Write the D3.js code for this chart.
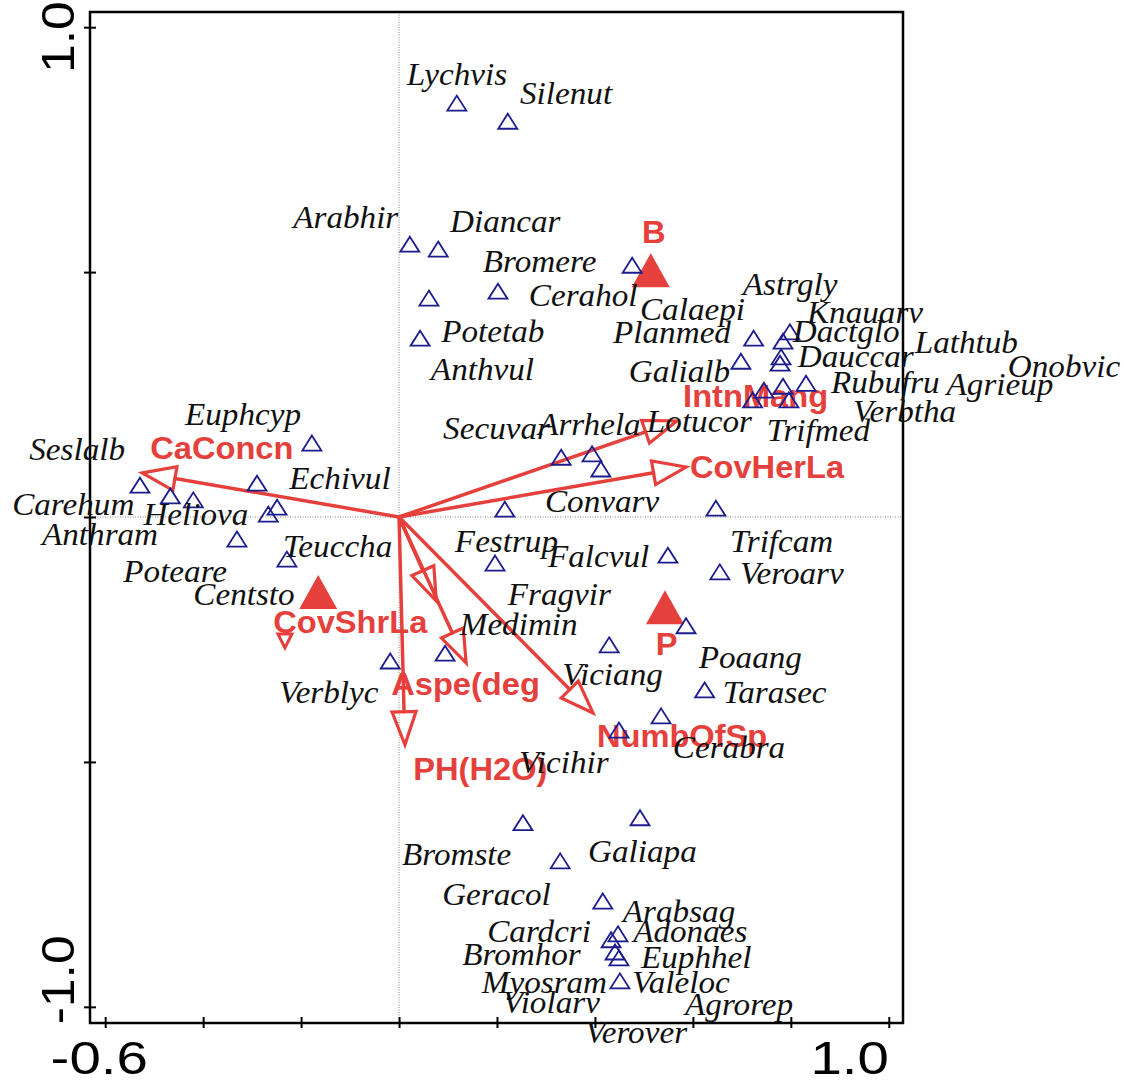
<!DOCTYPE html>
<html><head><meta charset="utf-8">
<script src="https://cdn.jsdelivr.net/npm/d3@7"></script>
<style>body{margin:0;background:#fff}</style>
</head><body><svg id="chart" width="1124" height="1082"></svg>
<script>
// ---- axis ticks ----
const xTicks = [-0.6, -0.4, -0.2, 0, 0.2, 0.4, 0.6, 0.8, 1.0];
const yTicks = [-1.0, -0.5, 0, 0.5, 1.0];
const xTickLabels = ["-0.6", "1.0"];
const xTickValues = [-0.6, 1.0];
const yTickLabels = ["1.0", "-1.0"];
const yTickValues = [1.0, -1.0];

// ---- species points (triangles) ----
const speciesX = [0.118,0.222,0.022,0.080,0.476,0.061,0.202,0.043,0.331,0.394,0.412,
  0.724,0.798,0.784,0.698,0.780,0.778,0.745,0.784,0.831,0.722,0.796,
  -0.529,-0.467,-0.420,-0.290,-0.178,-0.249,-0.267,-0.331,-0.229,-0.018,
  0.216,0.647,0.196,0.549,0.655,0.586,0.429,0.094,0.624,0.535,0.449,
  0.253,0.492,0.329,0.416,0.447,0.433,0.441,0.449,0.451];
const speciesY = [0.845,0.808,0.557,0.547,0.514,0.447,0.461,0.365,0.122,0.129,0.098,
  0.365,0.378,0.359,0.318,0.327,0.314,0.259,0.267,0.273,0.239,0.239,
  0.065,0.043,0.035,0.069,0.151,0.020,0.006,-0.045,-0.086,-0.294,
  0.016,0.018,-0.094,-0.078,-0.112,-0.222,-0.261,-0.278,-0.353,-0.406,-0.435,
  -0.624,-0.614,-0.702,-0.784,-0.851,-0.863,-0.888,-0.900,-0.947];

// ---- species labels ----
const speciesNames = ["Lychvis","Silenut","Arabhir","Diancar","Bromere","Cerahol","Calaepi","Astrgly",
  "Knauarv","Planmed","Dactglo","Lathtub","Onobvic","Dauccar","Galialb","Rubufru","Agrieup","Verbtha",
  "Lotucor","Trifmed","Secuvar","Arrhela","Euphcyp","Seslalb","Echivul","Carehum","Heliova","Anthram",
  "Teuccha","Poteare","Centsto","Verblyc","Potetab","Anthvul","Convarv","Trifcam","Festrup","Falcvul",
  "Veroarv","Fragvir","Medimin","Poaang","Viciang","Tarasec","Cerabra","Vicihir","Bromste","Galiapa",
  "Geracol","Arabsag","Cardcri","Adonaes","Bromhor","Euphhel","Myosram","Valeloc","Violarv","Agrorep","Verover"];
const speciesLabelX = [0.016,0.247,-0.216,0.104,0.171,0.265,0.492,0.702,
  0.833,0.437,0.804,1.053,1.243,0.814,0.469,0.882,1.118,0.927,
  0.506,0.751,0.090,0.284,-0.437,-0.755,-0.224,-0.790,-0.522,-0.729,
  -0.237,-0.563,-0.420,-0.245,0.086,0.065,0.298,0.676,0.114,0.304,
  0.696,0.222,0.124,0.612,0.333,0.661,0.559,0.245,0.006,0.386,
  0.088,0.457,0.180,0.478,0.129,0.494,0.169,0.476,0.212,0.584,0.380];
const speciesLabelY = [0.882,0.843,0.590,0.582,0.500,0.431,0.402,0.453,
  0.396,0.355,0.357,0.335,0.286,0.306,0.276,0.253,0.249,0.194,
  0.173,0.155,0.159,0.167,0.188,0.116,0.057,0.004,-0.016,-0.057,
  -0.082,-0.133,-0.180,-0.380,0.357,0.280,0.010,-0.071,-0.071,-0.102,
  -0.137,-0.180,-0.241,-0.308,-0.343,-0.380,-0.492,-0.522,-0.710,-0.704,
  -0.792,-0.827,-0.867,-0.867,-0.914,-0.920,-0.971,-0.971,-1.012,-1.016,-1.073];

// ---- environmental arrows ----
const envNames = ["CaConcn","IntnMang","CovHerLa","CovShrLa","Aspe(deg","PH(H2O)","NumbOfSp"];
const envX = [-0.524,0.567,0.586,0.076,0.137,0.012,0.396];
const envY = [0.090,0.196,0.102,-0.171,-0.298,-0.465,-0.400];
const envLabelX = [-0.508,0.580,0.594,-0.257,-0.016,0.029,0.404];
const envLabelY = [0.118,0.224,0.080,-0.237,-0.363,-0.537,-0.469];

// ---- nominal centroids ----
const centroidNames = ["B","P",""];
const centroidX = [0.514,0.543,-0.165];
const centroidY = [0.504,-0.184,-0.153];
const centroidLabelX = [0.496,0.524,null];
const centroidLabelY = [0.559,-0.282,null];
// stray small arrowhead below CovShrLa label
const strayX = [-0.233];
const strayY = [-0.251];

const RED = "#e5403c", BLUE = "#1c1c8e";
const svg = d3.select("#chart");
const x = d3.scaleLinear().domain([-0.631, 1.029]).range([90, 903]);
const y = d3.scaleLinear().domain([-1.033, 1.031]).range([1023, 12]);
const [x0, x1] = x.range(), [y0, y1] = y.range();
const STRETCH = 1.07;

function stretchedText(g, px, py, str, sx) {
  return g.append("text").attr("transform", `translate(${px},${py}) scale(${sx},1)`).text(str);
}

// zero lines (dotted)
svg.append("line").attr("x1", x(0)).attr("x2", x(0)).attr("y1", y1).attr("y2", y0)
  .attr("stroke", "#888").attr("stroke-width", 1).attr("stroke-dasharray", "1,1.5");
svg.append("line").attr("x1", x0).attr("x2", x1).attr("y1", y(0)).attr("y2", y(0))
  .attr("stroke", "#888").attr("stroke-width", 1).attr("stroke-dasharray", "1,1.5");

// frame
svg.append("rect").attr("x", x0).attr("y", y1).attr("width", x1 - x0).attr("height", y0 - y1)
  .attr("fill", "none").attr("stroke", "#000").attr("stroke-width", 2.5);

// ticks via axes
const xAxis = svg.append("g").attr("transform", `translate(0,${y0 + 5})`)
  .call(d3.axisBottom(x).tickValues(xTicks).tickSize(11).tickFormat(""));
xAxis.select(".domain").remove();
xAxis.selectAll(".tick line").attr("stroke", "#000").attr("stroke-width", 2).attr("y1", -11).attr("y2", 0);
const yAxis = svg.append("g").attr("transform", `translate(${x0 - 6},0)`)
  .call(d3.axisLeft(y).tickValues(yTicks).tickSize(0).tickFormat(""));
yAxis.select(".domain").remove();
yAxis.selectAll(".tick line").attr("stroke", "#000").attr("stroke-width", 2).attr("x1", 0).attr("x2", 12);

// tick labels
const tickFont = "'Liberation Sans', Arial, sans-serif";
const gT = svg.append("g").attr("font-family", tickFont).attr("font-size", 47).attr("fill", "#000");
stretchedText(gT, x(xTickValues[0]) - 6, 1074, xTickLabels[0], 1.2).attr("text-anchor", "middle");
stretchedText(gT, x(xTickValues[1]), 1074, xTickLabels[1], 1.2).attr("text-anchor", "end");
gT.append("text").attr("transform", `translate(74,${y(yTickValues[0]) + 10}) rotate(-90) scale(1.1,1)`)
  .attr("text-anchor", "middle").text(yTickLabels[0]);
gT.append("text").attr("transform", `translate(74,${y(yTickValues[1]) - 27}) rotate(-90) scale(1.1,1)`)
  .attr("text-anchor", "middle").text(yTickLabels[1]);

// arrows
const ox = x(0), oy = y(0);
const gA = svg.append("g");
envNames.forEach((n, i) => {
  const tx = x(envX[i]), ty = y(envY[i]);
  const dx = tx - ox, dy = ty - oy, L = Math.hypot(dx, dy), ux = dx / L, uy = dy / L;
  const hl = 33, hw = 12;
  const bx = tx - ux * hl, by = ty - uy * hl;
  gA.append("line").attr("x1", ox).attr("y1", oy).attr("x2", bx).attr("y2", by)
    .attr("stroke", RED).attr("stroke-width", 3.5).attr("stroke-linecap", "round");
  gA.append("path")
    .attr("d", `M${tx},${ty}L${bx - uy * hw},${by + ux * hw}L${bx + uy * hw},${by - ux * hw}Z`)
    .attr("fill", "none").attr("stroke", RED).attr("stroke-width", 3.2).attr("stroke-linejoin", "miter");
});
// stray arrowhead
strayX.forEach((v, i) => {
  gA.append("path").attr("transform", `translate(${x(v)},${y(strayY[i])})`)
    .attr("d", "M-7,-6L7,-6L0,8Z").attr("fill", "none").attr("stroke", RED).attr("stroke-width", 3);
});
// centroids
centroidNames.forEach((n, i) => {
  gA.append("path").attr("transform", `translate(${x(centroidX[i])},${y(centroidY[i])})`)
    .attr("d", "M0,-17L19,17L-19,17Z").attr("fill", RED);
});

// red labels
const gR = svg.append("g").attr("font-family", "'Liberation Sans', Arial, sans-serif")
  .attr("font-weight", "bold").attr("font-size", 30.5).attr("fill", RED);
envNames.forEach((n, i) => {
  stretchedText(gR, x(envLabelX[i]), y(envLabelY[i]), n, STRETCH);
});
centroidNames.forEach((n, i) => {
  if (!n) return;
  stretchedText(gR, x(centroidLabelX[i]), y(centroidLabelY[i]), n, STRETCH);
});

// species triangles
const gS = svg.append("g");
speciesX.forEach((v, i) => {
  gS.append("path").attr("transform", `translate(${x(v)},${y(speciesY[i])})`)
    .attr("d", "M0,-7.5L9.5,7.5L-9.5,7.5Z").attr("fill", "none")
    .attr("stroke", BLUE).attr("stroke-width", 1.8);
});
// species labels
const gL = svg.append("g").attr("font-family", "'Liberation Serif', 'Times New Roman', serif")
  .attr("font-style", "italic").attr("font-size", 31).attr("fill", "#111");
speciesNames.forEach((n, i) => {
  stretchedText(gL, x(speciesLabelX[i]), y(speciesLabelY[i]), n, STRETCH);
});
</script>
</body></html>
